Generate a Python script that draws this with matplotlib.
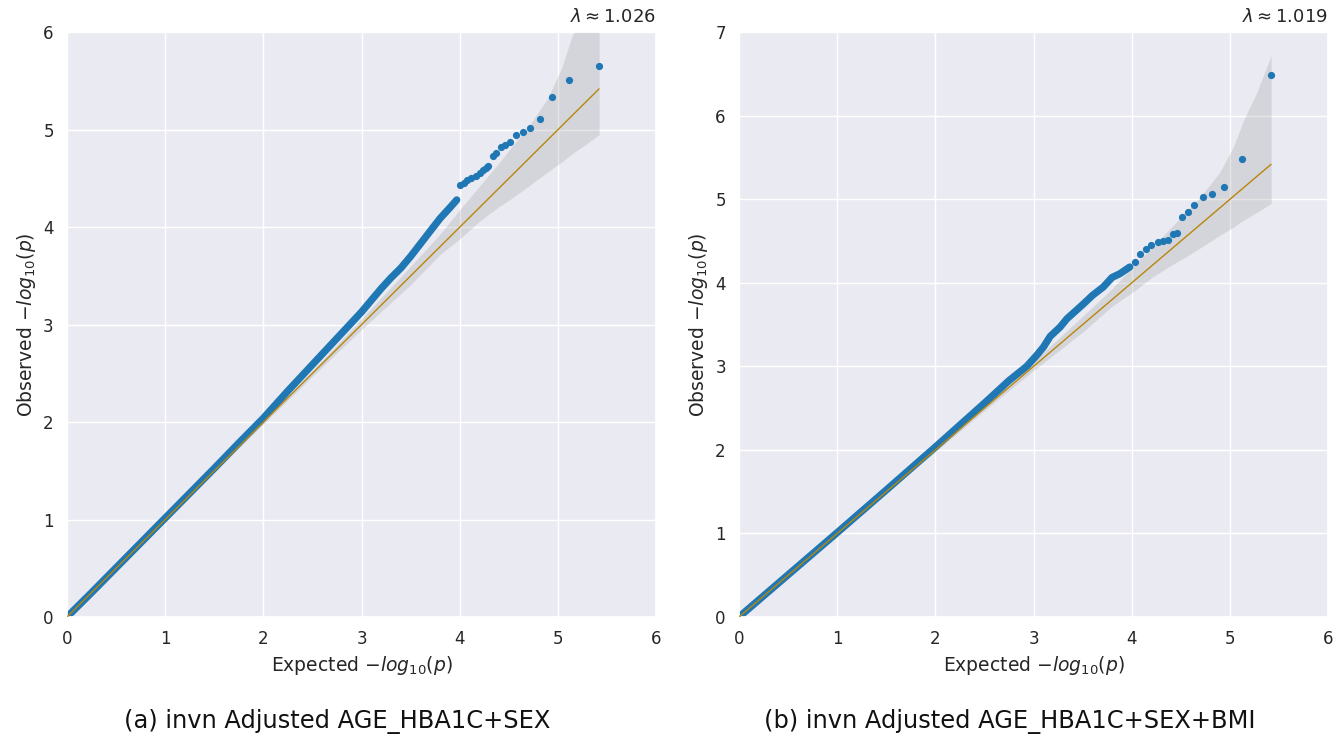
import matplotlib
matplotlib.use("Agg")
import matplotlib.pyplot as plt
import seaborn as sns


# QQ curves (expected vs observed -log10 p)
A_EXP = [0.0, 0.25, 0.5, 0.75, 1.0, 1.25, 1.5, 1.75, 2.0, 2.25, 2.5, 2.75, 2.88, 3.0,
         3.1, 3.2, 3.3, 3.4, 3.5, 3.6, 3.7, 3.8, 3.9, 3.97]
A_OBS = [0.0, 0.25, 0.505, 0.76, 1.015, 1.27, 1.525, 1.785, 2.04, 2.32, 2.59, 2.86, 3.0, 3.13,
         3.25, 3.37, 3.48, 3.58, 3.7, 3.83, 3.96, 4.09, 4.2, 4.28]
A_TAIL_EXP = [4.0, 4.04, 4.07, 4.11, 4.17, 4.21, 4.24, 4.27, 4.29, 4.336, 4.373, 4.418,
              4.462, 4.513, 4.574, 4.642, 4.72, 4.818, 4.94, 5.117, 5.419]
A_TAIL_OBS = [4.43, 4.45, 4.48, 4.5, 4.53, 4.56, 4.585, 4.61, 4.626, 4.735, 4.762, 4.824,
              4.848, 4.879, 4.944, 4.98, 5.015, 5.105, 5.336, 5.508, 5.651]

B_EXP = [0.0, 0.5, 1.0, 1.5, 2.0, 2.5, 2.75, 2.93, 3.03, 3.1, 3.17, 3.27, 3.34, 3.51,
         3.6, 3.71, 3.8, 3.88, 3.98]
B_OBS = [0.0, 0.505, 1.01, 1.52, 2.035, 2.56, 2.83, 3.0, 3.13, 3.23, 3.36, 3.47, 3.57, 3.75,
         3.85, 3.95, 4.065, 4.11, 4.19]
B_TAIL_EXP = [4.034, 4.085, 4.15, 4.2, 4.27, 4.322, 4.373, 4.418, 4.465, 4.516, 4.577,
              4.638, 4.723, 4.818, 4.94, 5.12, 5.419]
B_TAIL_OBS = [4.25, 4.34, 4.41, 4.45, 4.484, 4.5, 4.51, 4.58, 4.6, 4.79, 4.85,
              4.93, 5.03, 5.058, 5.145, 5.48, 6.494]

# 95% band around the diagonal
BAND_EXP = [0.0, 1.0, 2.0, 2.5, 3.0, 3.5, 3.8, 4.0, 4.2, 4.4, 4.55, 4.7, 4.9, 5.04,
            5.14, 5.27, 5.42]
BAND_HI = [0.0, 1.005, 2.02, 2.53, 3.06, 3.6, 3.93, 4.18, 4.42, 4.66, 4.85, 5.03, 5.33,
           5.64, 5.95, 6.27, 6.72]
BAND_LO = [0.0, 0.995, 1.98, 2.47, 2.95, 3.41, 3.72, 3.88, 4.06, 4.21, 4.31, 4.42, 4.57,
           4.67, 4.75, 4.84, 4.95]

LAMBDAS = [1.026, 1.019]
Y_MAX = [6, 7]
CAPTIONS = [
    "(a) invn Adjusted AGE_HBA1C+SEX",
    "(b) invn Adjusted AGE_HBA1C+SEX+BMI",
]

BLUE = "#1f77b4"
GOLD = "#b8860b"


def draw_qq(ax, exp, obs, tail_exp, tail_obs, lam, ymax):
    ax.fill_between(BAND_EXP, BAND_LO, BAND_HI, color="gray", alpha=0.2, lw=0, zorder=1)
    ax.plot(exp, obs, color=BLUE, lw=5.2, solid_capstyle="round", solid_joinstyle="round", zorder=2)
    ax.plot(tail_exp, tail_obs, "o", color=BLUE, ms=5.2, mew=0, zorder=2)
    top = max(tail_exp)
    ax.plot([0, top], [0, top], color=GOLD, lw=1, zorder=3)
    ax.set_xlim(0, 6)
    ax.set_ylim(0, ymax)
    ax.set_xticks(range(0, 7))
    ax.set_yticks(range(0, ymax + 1))
    ax.tick_params(labelsize=12)
    ax.set_xlabel(r"Expected $-log_{10}(p)$", fontsize=13.5)
    ax.set_ylabel(r"Observed $-log_{10}(p)$", fontsize=13.5)
    ax.text(1.0, 1.01, rf"$\lambda \approx${lam:.3f}", transform=ax.transAxes,
            ha="right", va="bottom", fontsize=13)


def main() -> None:
    sns.set_theme(style="darkgrid")
    plt.rcParams["font.family"] = ["DejaVu Sans"]
    fig = plt.figure(figsize=(13.4, 7.42), dpi=100)
    ax_a = fig.add_axes([0.05, 0.1685, 0.4396, 0.788])
    ax_b = fig.add_axes([0.5515, 0.1685, 0.4396, 0.788])
    draw_qq(ax_a, A_EXP, A_OBS, A_TAIL_EXP, A_TAIL_OBS, LAMBDAS[0], Y_MAX[0])
    draw_qq(ax_b, B_EXP, B_OBS, B_TAIL_EXP, B_TAIL_OBS, LAMBDAS[1], Y_MAX[1])
    fig.text(337 / 1340, 1 - 722 / 742, CAPTIONS[0], ha="center", va="center",
             fontsize=17.4, color="#111111")
    fig.text(1010 / 1340, 1 - 722 / 742, CAPTIONS[1], ha="center", va="center",
             fontsize=17.4, color="#111111")
    fig.savefig("out.png", dpi=100)


if __name__ == "__main__":
    main()
